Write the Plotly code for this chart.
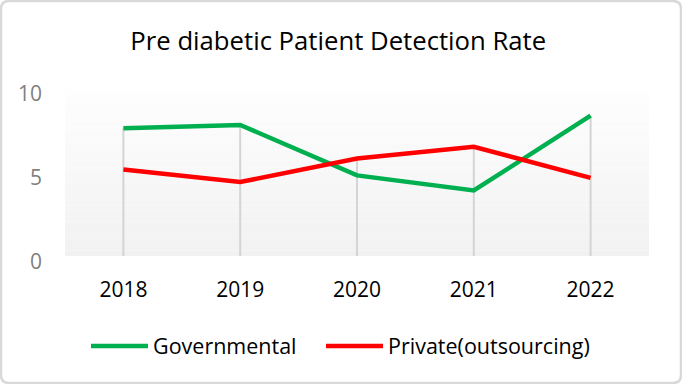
import plotly.graph_objects as go

years = ["2018", "2019", "2020", "2021", "2022"]
governmental = [7.6, 7.8, 4.8, 3.9, 8.35]
private = [5.15, 4.4, 5.8, 6.5, 4.65]
y_ticks = [0, 5, 10]

W, H = 682, 384
FONT = "Open Sans"

# plot area in pixels
PL, PR, PT, PB = 65, 649, 88, 256

fig = go.Figure()

# drop lines from 0 to the higher of the two series
dx, dy = [], []
for yr, g, p in zip(years, governmental, private):
    dx += [yr, yr, None]
    dy += [0, max(g, p), None]
fig.add_trace(go.Scatter(x=dx, y=dy, mode="lines", line=dict(color="#d4d4d4", width=2),
                         showlegend=False, hoverinfo="skip"))

fig.add_trace(go.Scatter(x=years, y=governmental, mode="lines", name="Governmental",
                         line=dict(color="#00b050", width=4.5), legend="legend"))
fig.add_trace(go.Scatter(x=years, y=private, mode="lines", name="Private(outsourcing)",
                         line=dict(color="#ff0000", width=4.5), legend="legend2"))

shapes = []
# gradient plot background
n = 30
for i in range(n):
    t = i / n
    c = int(round(241 + (254 - 241) * (i + 0.5) / n))
    shapes.append(dict(type="rect", xref="x domain", yref="y domain", x0=0, x1=1,
                       y0=t, y1=(i + 1) / n, line=dict(width=0),
                       fillcolor=f"rgb({c},{c},{c})", layer="below"))

# rounded outer border
r = 8
def px(x): return x / W
def py(y): return 1 - y / H
x0, x1, y0, y1 = 1, W - 1, 1, H - 1
path = (f"M {px(x0 + r)},{py(y0)} L {px(x1 - r)},{py(y0)} "
        f"Q {px(x1)},{py(y0)} {px(x1)},{py(y0 + r)} L {px(x1)},{py(y1 - r)} "
        f"Q {px(x1)},{py(y1)} {px(x1 - r)},{py(y1)} L {px(x0 + r)},{py(y1)} "
        f"Q {px(x0)},{py(y1)} {px(x0)},{py(y1 - r)} L {px(x0)},{py(y0 + r)} "
        f"Q {px(x0)},{py(y0)} {px(x0 + r)},{py(y0)} Z")
shapes.append(dict(type="path", xref="paper", yref="paper", path=path,
                   line=dict(color="#d9d9d9", width=2.5), layer="above"))

legend_style = dict(orientation="h", xanchor="left", y=1 - 346 / H, yanchor="middle",
                    font=dict(size=21.5, color="#000000"), bgcolor="rgba(0,0,0,0)",
                    itemwidth=57)

fig.update_layout(
    width=W, height=H,
    autosize=False,
    margin=dict(l=0, r=0, t=0, b=0, pad=0, autoexpand=False),
    paper_bgcolor="white",
    plot_bgcolor="rgba(0,0,0,0)",
    font=dict(family=FONT, color="#000000"),
    title=dict(text="Pre diabetic Patient Detection Rate", x=0.496, xanchor="center",
               y=1 - 41 / H, yanchor="middle", automargin=False,
               font=dict(size=25.7, color="#000000")),
    xaxis=dict(domain=[PL / W, PR / W], type="category", range=[-0.5, 4.5],
               showgrid=False, zeroline=False, automargin=False,
               showline=False, ticks="", tickfont=dict(size=21, color="#000000"),
               ticklabelstandoff=19, fixedrange=True),
    yaxis=dict(domain=[1 - PB / H, 1 - PT / H], range=[0, 10], tickvals=y_ticks,
               showgrid=False, zeroline=False, showline=False, ticks="", automargin=False,
               tickfont=dict(size=21, color="#7f7f7f"), ticklabelstandoff=22,
               ticklabelshift=6, fixedrange=True),
    legend=dict(x=(92 - 6) / W, **legend_style),
    legend2=dict(x=(327 - 6) / W, **legend_style),
    shapes=shapes,
    showlegend=True,
)

fig.write_html("out.html")
